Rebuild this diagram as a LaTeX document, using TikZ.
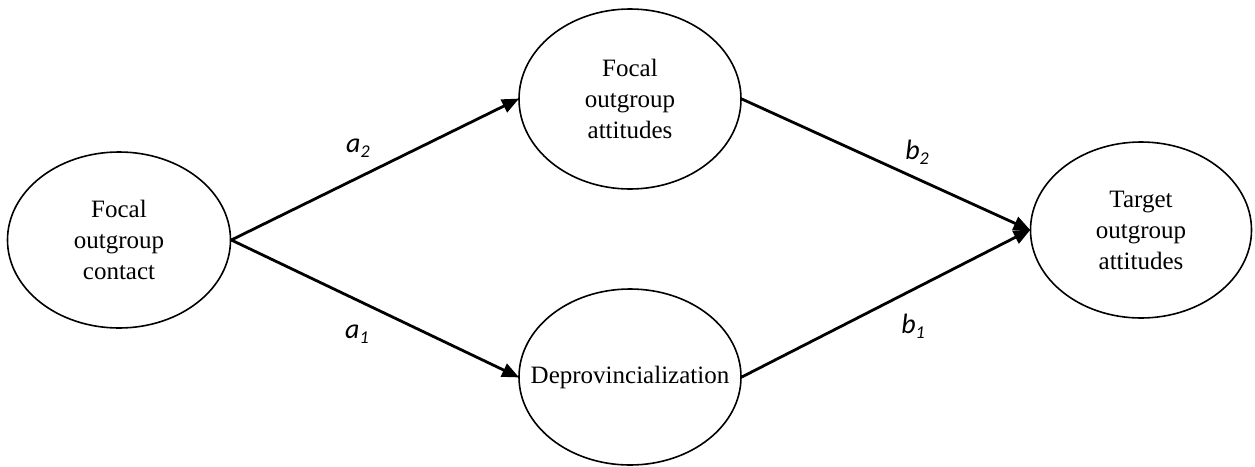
\documentclass[tikz,border=0pt]{standalone}
\usepackage{fontspec}
\setmainfont{Liberation Serif}
\newfontfamily\labelfont{Carlito}
\usetikzlibrary{shapes.geometric,arrows.meta}
\newcommand{\pathlabel}[2]{{\labelfont\itshape #1\raisebox{-0.35ex}{\fontsize{18}{18}\selectfont #2}}}
\begin{document}
\begin{tikzpicture}[x=1pt,y=-1pt,
  concept/.style={ellipse,draw,line width=1.6pt,inner sep=0pt},
  concept text/.style={align=center,font=\fontsize{25}{31}\selectfont},
  path arrow/.style={line width=2.8pt,-{Triangle[length=17pt,width=14pt]},shorten >=-1pt},
  coef/.style={font=\fontsize{28}{32}\selectfont}]
\useasboundingbox (0,0) rectangle (1255,466);
\node[concept,minimum width=223pt,minimum height=176pt,
  label={[concept text]center:Focal\\outgroup\\contact}] (contact) at (119,240) {};
\node[concept,minimum width=222pt,minimum height=180pt,
  label={[concept text]center:Focal\\outgroup\\attitudes}] (focal) at (630,99) {};
\node[concept,minimum width=222pt,minimum height=176pt,
  label={[concept text]center:Deprovincialization}] (deprov) at (630,377) {};
\node[concept,minimum width=221pt,minimum height=176pt,
  label={[concept text]center:Target\\outgroup\\attitudes}] (target) at (1141,230) {};
\draw[path arrow] (contact.east) -- (focal.west);
\draw[path arrow] (contact.east) -- (deprov.west);
\draw[path arrow] (focal.east) -- (target.west);
\draw[path arrow] (deprov.east) -- (target.west);
\node[coef] (la2) at (358,148) {\pathlabel{a}{2}};
\node[coef] (la1) at (357,334) {\pathlabel{a}{1}};
\node[coef] (lb2) at (917,152) {\pathlabel{b}{2}};
\node[coef] (lb1) at (913,326) {\pathlabel{b}{1}};
\end{tikzpicture}
\end{document}
